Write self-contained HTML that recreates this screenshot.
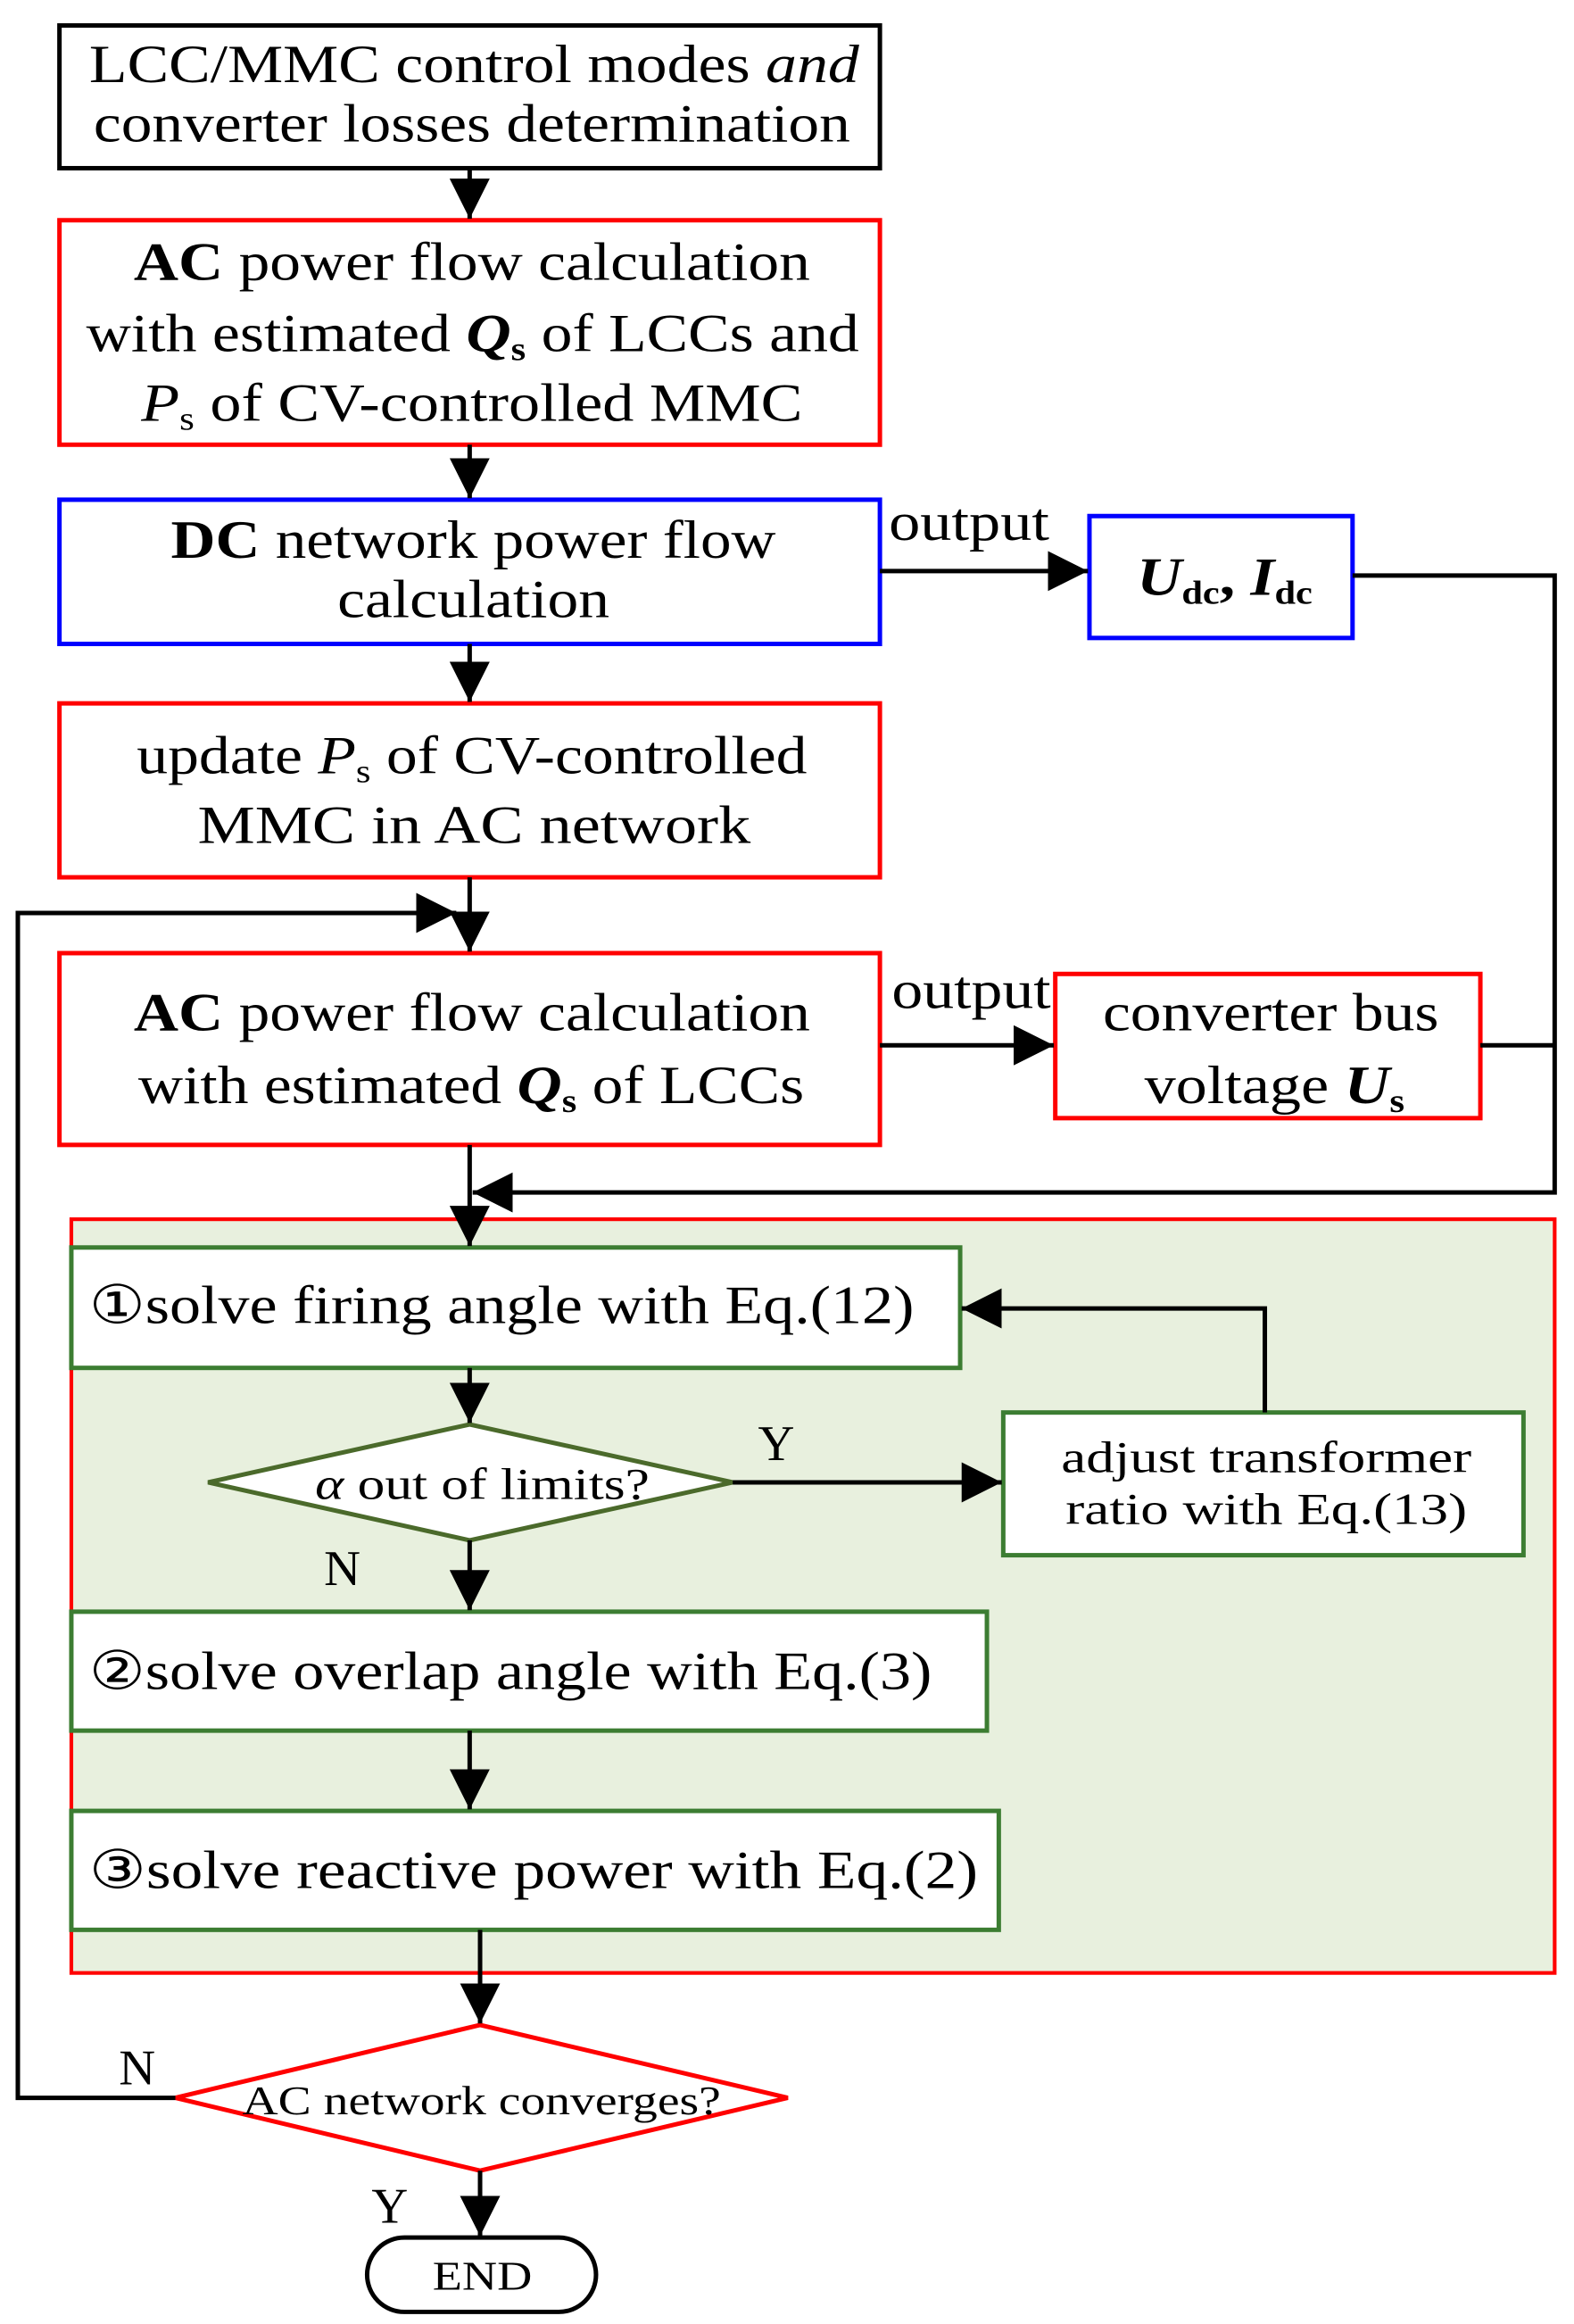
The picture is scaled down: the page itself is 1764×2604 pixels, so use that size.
<!DOCTYPE html>
<html><head><meta charset="utf-8"><style>
html,body{margin:0;padding:0;background:#fff;}
svg{display:block;}
text{font-family:"Liberation Serif",serif;fill:#000;}
</style></head><body>
<svg width="1764" height="2604" viewBox="0 0 1059 1563" xmlns="http://www.w3.org/2000/svg">
<defs>
<marker id="b" viewBox="0 0 10 10" refX="10" refY="5" markerWidth="9" markerHeight="9" orient="auto">
<path d="M0,0 L10,5 L0,10 Z" fill="#000"/></marker>
</defs>
<rect x="48" y="820" width="998" height="507" fill="#e8f0de" stroke="#f00" stroke-width="2.5"/>

<rect x="40" y="17" width="552" height="96" fill="#fff" stroke="#000" stroke-width="3"/>
<rect x="40" y="148" width="552" height="151" fill="#fff" stroke="#f00" stroke-width="3"/>
<rect x="40" y="336" width="552" height="97" fill="#fff" stroke="#00f" stroke-width="3"/>
<rect x="40" y="473" width="552" height="117" fill="#fff" stroke="#f00" stroke-width="3"/>
<rect x="40" y="641" width="552" height="129" fill="#fff" stroke="#f00" stroke-width="3"/>
<rect x="733" y="347" width="177" height="82" fill="#fff" stroke="#00f" stroke-width="3"/>
<rect x="710" y="655" width="286" height="97" fill="#fff" stroke="#f00" stroke-width="3"/>
<rect x="48" y="839" width="598" height="81" fill="#fff" stroke="#3c7d32" stroke-width="3"/>
<rect x="675" y="950" width="350" height="96" fill="#fff" stroke="#3c7d32" stroke-width="3"/>
<rect x="48" y="1084" width="616" height="80" fill="#fff" stroke="#3c7d32" stroke-width="3"/>
<rect x="48" y="1218" width="624" height="80" fill="#fff" stroke="#3c7d32" stroke-width="3"/>
<polygon points="140,997 316,958 493,997 316,1036" fill="#fff" stroke="#4b6a2b" stroke-width="3"/>
<polygon points="118,1411 323,1362 530,1411 323,1460" fill="#fff" stroke="#f00" stroke-width="3"/>
<rect x="247" y="1505" width="154" height="50" rx="25" fill="#fff" stroke="#000" stroke-width="3"/>

<g stroke="#000" stroke-width="3" fill="none">
<line x1="316" y1="113" x2="316" y2="147" marker-end="url(#b)"/>
<line x1="316" y1="299" x2="316" y2="335" marker-end="url(#b)"/>
<line x1="316" y1="433" x2="316" y2="472" marker-end="url(#b)"/>
<line x1="316" y1="590" x2="316" y2="640" marker-end="url(#b)"/>
<line x1="316" y1="770" x2="316" y2="838" marker-end="url(#b)"/>
<line x1="316" y1="920" x2="316" y2="957" marker-end="url(#b)"/>
<line x1="316" y1="1036" x2="316" y2="1083" marker-end="url(#b)"/>
<line x1="316" y1="1164" x2="316" y2="1217" marker-end="url(#b)"/>
<line x1="323" y1="1298" x2="323" y2="1361" marker-end="url(#b)"/>
<line x1="323" y1="1460" x2="323" y2="1504" marker-end="url(#b)"/>
<line x1="592" y1="384" x2="732" y2="384" marker-end="url(#b)"/>
<line x1="592" y1="703" x2="709" y2="703" marker-end="url(#b)"/>
<polyline points="910,387 1046,387 1046,802 318,802" marker-end="url(#b)"/>
<line x1="996" y1="703" x2="1046" y2="703"/>
<polyline points="118,1411 12,1411 12,614 307,614" marker-end="url(#b)"/>
<line x1="493" y1="997" x2="674" y2="997" marker-end="url(#b)"/>
<polyline points="851,950 851,880 647,880" marker-end="url(#b)"/>
</g>

<g font-size="36">
<text x="60" y="55" textLength="518" lengthAdjust="spacingAndGlyphs">LCC/MMC control modes <tspan font-style="italic">and</tspan></text>
<text x="63" y="95" textLength="509" lengthAdjust="spacingAndGlyphs">converter losses determination</text>

<text x="90" y="188" textLength="455" lengthAdjust="spacingAndGlyphs"><tspan font-weight="bold">AC</tspan> power flow calculation</text>
<text x="58" y="236" textLength="520" lengthAdjust="spacingAndGlyphs">with estimated <tspan font-weight="bold" font-style="italic">Q</tspan><tspan font-size="22" font-weight="bold" dy="6">s</tspan><tspan dy="-6"> of LCCs and</tspan></text>
<text x="95" y="283" textLength="445" lengthAdjust="spacingAndGlyphs"><tspan font-style="italic">P</tspan><tspan font-size="22" dy="6">s</tspan><tspan dy="-6"> of CV-controlled MMC</tspan></text>

<text x="115" y="375" textLength="407" lengthAdjust="spacingAndGlyphs"><tspan font-weight="bold">DC</tspan> network power flow</text>
<text x="227" y="415" textLength="183" lengthAdjust="spacingAndGlyphs">calculation</text>

<text x="92" y="520" textLength="451" lengthAdjust="spacingAndGlyphs">update <tspan font-style="italic">P</tspan><tspan font-size="22" dy="6">s</tspan><tspan dy="-6"> of CV-controlled</tspan></text>
<text x="133" y="567" textLength="372" lengthAdjust="spacingAndGlyphs">MMC  in AC network</text>

<text x="90" y="693" textLength="455" lengthAdjust="spacingAndGlyphs"><tspan font-weight="bold">AC</tspan> power flow calculation</text>
<text x="93" y="742" textLength="448" lengthAdjust="spacingAndGlyphs">with estimated <tspan font-weight="bold" font-style="italic">Q</tspan><tspan font-size="22" font-weight="bold" dy="6">s</tspan><tspan dy="-6"> of LCCs</tspan></text>

<text x="765" y="400" textLength="118" lengthAdjust="spacingAndGlyphs" font-weight="bold" font-style="italic">U<tspan font-size="22" font-style="normal" dy="6">dc</tspan><tspan dy="-6" font-style="normal">, </tspan>I<tspan font-size="22" font-style="normal" dy="6">dc</tspan></text>
<text x="742" y="693" textLength="226" lengthAdjust="spacingAndGlyphs">converter bus</text>
<text x="770" y="742" textLength="175" lengthAdjust="spacingAndGlyphs">voltage <tspan font-weight="bold" font-style="italic">U</tspan><tspan font-size="22" font-weight="bold" dy="6">s</tspan></text>

<text x="598" y="363" textLength="108" lengthAdjust="spacingAndGlyphs">output</text>
<text x="600" y="678" textLength="107" lengthAdjust="spacingAndGlyphs">output</text>

<text x="60" y="890" textLength="555" lengthAdjust="spacingAndGlyphs">①solve firing angle with Eq.(12)</text>
<text x="60" y="1136" textLength="567" lengthAdjust="spacingAndGlyphs">②solve overlap angle with Eq.(3)</text>
<text x="60" y="1270" textLength="598" lengthAdjust="spacingAndGlyphs">③solve  reactive power with Eq.(2)</text>
</g>
<g font-size="30">
<text x="212" y="1008" textLength="225" lengthAdjust="spacingAndGlyphs"><tspan font-style="italic">α</tspan> out of limits?</text>
<text x="714" y="990" textLength="276" lengthAdjust="spacingAndGlyphs">adjust transformer</text>
<text x="717" y="1025" textLength="270" lengthAdjust="spacingAndGlyphs">ratio with Eq.(13)</text>
<text x="510" y="982" font-size="34">Y</text>
<text x="218" y="1066" font-size="34">N</text>
<text x="80" y="1402" font-size="34">N</text>
<text x="250" y="1495" font-size="34">Y</text>
</g>
<text x="163" y="1422" font-size="27" textLength="322" lengthAdjust="spacingAndGlyphs">AC network converges?</text>
<text x="291" y="1540" font-size="27" textLength="67" lengthAdjust="spacingAndGlyphs">END</text>
</svg>
</body></html>
